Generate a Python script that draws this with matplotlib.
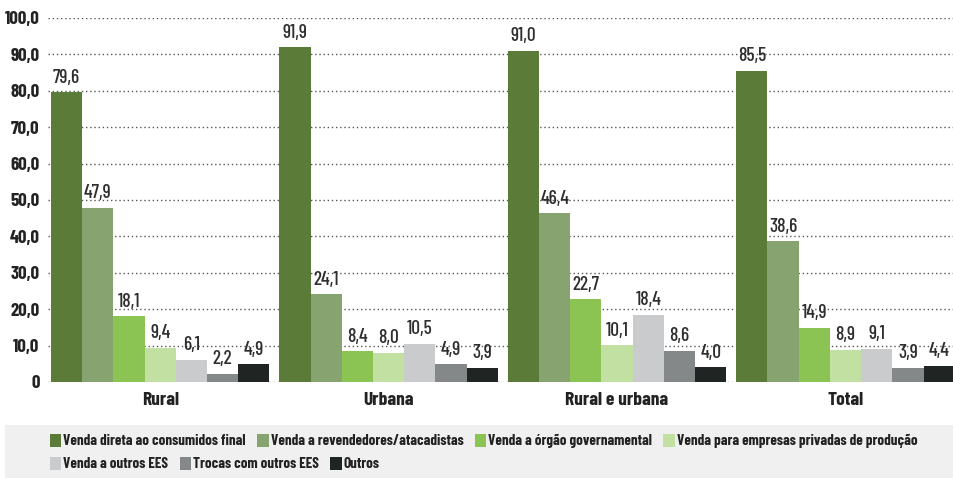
import matplotlib
matplotlib.use("Agg")
import matplotlib.pyplot as plt
from matplotlib import font_manager
from matplotlib.patches import Patch, Rectangle
import numpy as np

categories = ["Rural", "Urbana", "Rural e urbana", "Total"]
series_names = [
    "Venda direta ao consumidos final",
    "Venda a revendedores/atacadistas",
    "Venda a órgão governamental",
    "Venda para empresas privadas de produção",
    "Venda a outros EES",
    "Trocas com outros EES",
    "Outros",
]
values = [
    [79.6, 91.9, 91.0, 85.5],
    [47.9, 24.1, 46.4, 38.6],
    [18.1, 8.4, 22.7, 14.9],
    [9.4, 8.0, 10.1, 8.9],
    [6.1, 10.5, 18.4, 9.1],
    [2.2, 4.9, 8.6, 3.9],
    [4.9, 3.9, 4.0, 4.4],
]
colors = ["#5a7c38", "#87a36f", "#8bc453", "#c2e0a1", "#cacbcd", "#858888", "#202523"]
yticks = [0, 10, 20, 30, 40, 50, 60, 70, 80, 90, 100]
ytick_labels = ["0", "10,0", "20,0", "30,0", "40,0", "50,0", "60,0", "70,0", "80,0", "90,0", "100,0"]

names = {f.name for f in font_manager.fontManager.ttflist}
candidates = ["Barlow Condensed", "Roboto Condensed", "Archivo Narrow", "PT Sans Narrow",
              "Liberation Sans Narrow"]
fam = next((c for c in candidates if c in names), "DejaVu Sans")
narrow = fam == "Barlow Condensed"
vfs = 14 if narrow else 11.5      # value labels
tfs = 13.5 if narrow else 11      # tick labels
lfs = 10.8 if narrow else 9       # legend
plt.rcParams["font.family"] = [fam, "DejaVu Sans"]

fig = plt.figure(figsize=(9.54, 4.78), dpi=100)
ax = fig.add_axes([48 / 954, (478 - 382) / 478, (954 - 48) / 954, 364 / 478])

n = len(series_names)
bw = 0.1366
x = np.arange(len(categories))
for i in range(n):
    pos = x - bw * n / 2 + bw * (i + 0.5)
    bars = ax.bar(pos, values[i], width=bw, color=colors[i], zorder=2)
    for b, v in zip(bars, values[i]):
        ax.annotate(f"{v:.1f}".replace(".", ","), (b.get_x() + bw / 2, v),
                    xytext=(0, 4), textcoords="offset points", ha="center", va="bottom",
                    fontsize=vfs, fontweight="medium", color="#2e2e2e", zorder=3)

ax.set_xlim(-0.491, 3.475)
ax.set_ylim(0, 100)
ax.set_yticks(yticks)
ax.set_yticklabels(ytick_labels, fontsize=tfs, fontweight="bold", color="#222222")
ax.set_xticks(x)
ax.set_xticklabels(categories, fontsize=tfs + 0.5, fontweight="bold", color="#222222")
ax.tick_params(axis="both", length=0)
ax.tick_params(axis="y", pad=6)
ax.tick_params(axis="x", pad=7)
ax.yaxis.grid(True, linestyle=(0, (1, 2)), color="#555555", linewidth=1, zorder=0)
for s in ax.spines.values():
    s.set_visible(False)

# legend background
fig.patches.append(Rectangle((5 / 954, 0), 949 / 954, 53 / 478, transform=fig.transFigure,
                             facecolor="#eff0ef", edgecolor="none", zorder=0))
handles = [Patch(facecolor=c, edgecolor="none") for c in colors]
common = dict(frameon=False, handlelength=0.75, handleheight=0.95, handletextpad=0.15,
              columnspacing=0.75, prop={"size": lfs, "weight": "bold"}, borderpad=0,
              borderaxespad=0, labelcolor="#222222")
leg1 = fig.legend(handles[:4], series_names[:4], ncol=4, loc="center left",
                  bbox_to_anchor=(50 / 954, 1 - 441 / 478), **common)
leg2 = fig.legend(handles[4:], series_names[4:], ncol=3, loc="center left",
                  bbox_to_anchor=(50 / 954, 1 - 464 / 478), **common)

fig.savefig("out.png", dpi=100)
